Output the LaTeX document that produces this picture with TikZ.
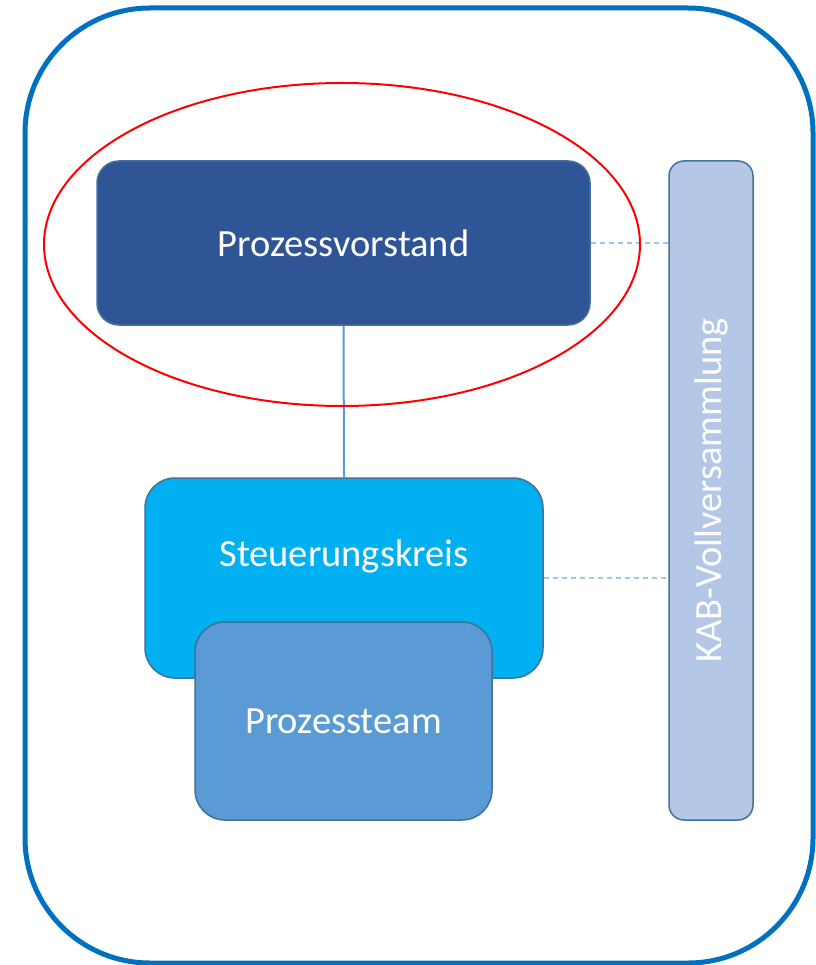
\documentclass[tikz,border=0pt]{standalone}
\usepackage{fontspec}
\setmainfont{Carlito}
\usepackage{xcolor}
\usetikzlibrary{shapes.geometric}
\definecolor{Rahmenblau}{HTML}{0070C0}
\definecolor{Vorstandblau}{HTML}{2F5597}
\definecolor{Kreisblau}{HTML}{00B0F0}
\definecolor{Teamblau}{HTML}{5B9BD5}
\definecolor{Versblau}{HTML}{B4C7E7}
\definecolor{Randblau}{HTML}{41719C}
\definecolor{Strichblau}{HTML}{9DC3E6}
\tikzset{
Gremium/.style={
 draw=Randblau,
 line width=1.5pt,
 rounded corners=#1,
 text=white,
 font=\fontsize{38.5}{46}\selectfont,
 inner sep=0pt
 },
Gremium/.default={22pt},
Linie/.style={
 draw=Teamblau,
 line width=2pt
 },
Strich/.style={
 draw=Strichblau,
 line width=1.2pt,
 dash pattern=on 5pt off 4pt
 }
}
\begin{document}
\begin{tikzpicture}[x=1pt,y=-1pt]
\useasboundingbox (0,0) rectangle (815,965);
\draw[Rahmenblau,line width=5pt,rounded corners=125pt] (25,8) rectangle (813,963);
\node[Gremium,fill=Vorstandblau,minimum width=493,minimum height=164] (vorstand) at (343.5,243) {Prozessvorstand};
\node[Gremium=30pt,fill=Kreisblau,minimum width=398,minimum height=200,
 label={[text=white,font=\fontsize{38.5}{46}\selectfont,yshift=22]center:Steuerungskreis}] (kreis) at (344,578) {};
\node[Gremium=30pt,fill=Teamblau,minimum width=297,minimum height=198] (team) at (343.5,721) {Prozessteam};
\node[Gremium=15pt,fill=Versblau,minimum width=84,minimum height=659] (voll) at (711,490.5) {};
\node[text=white,font=\fontsize{38.5}{46}\selectfont,rotate=90] (vollname) at (voll.center) {KAB-Vollversammlung};
\draw[Linie] (vorstand.south) -- (kreis.north);
\draw[Strich] (vorstand.east) -- (voll.west |- vorstand.east);
\draw[Strich] (kreis.east) -- (voll.west |- kreis.east);
\draw[red,line width=2pt] (342,244.5) ellipse (298 and 161.5);
\end{tikzpicture}
\end{document}
